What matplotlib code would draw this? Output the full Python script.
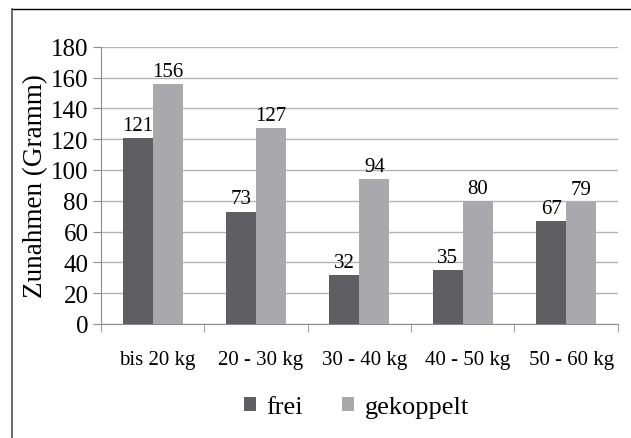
import matplotlib.pyplot as plt
import matplotlib.transforms as mtransforms
import numpy as np
from matplotlib.lines import Line2D

plt.rcParams['font.family'] = ['Liberation Serif', 'DejaVu Serif']

categories = ['bis 20 kg', '20 - 30 kg', '30 - 40 kg', '40 - 50 kg', '50 - 60 kg']
frei = [121, 73, 32, 35, 67]
gekoppelt = [156, 127, 94, 80, 79]
yticks = [0, 20, 40, 60, 80, 100, 120, 140, 160, 180]

dark = '#5f5f63'
light = '#a9a9ad'
grid_col = '#b4b4b4'

fig = plt.figure(figsize=(6.31, 4.39), dpi=100)
ax = fig.add_axes([0.160, 0.260, 0.819, 0.631])

x = np.arange(len(categories))
w = 0.29
b1 = ax.bar(x - w / 2, frei, w, color=dark, label='frei', zorder=3)
b2 = ax.bar(x + w / 2, gekoppelt, w, color=light, label='gekoppelt', zorder=3)

# value labels on top of each bar
for bars in (b1, b2):
    for r in bars:
        ax.text(r.get_x() + r.get_width() / 2, r.get_height() + 2, f'{r.get_height():.0f}',
                ha='center', va='bottom', fontsize=15)

ax.set_xlim(-0.5, len(categories) - 0.5)
ax.set_ylim(0, 180)
ax.set_yticks(yticks)
ax.yaxis.grid(True, color=grid_col, linewidth=1)
ax.set_axisbelow(True)

ax.set_xticks(x)
ax.set_xticklabels(categories, fontsize=15)
ax.set_xticks(np.arange(-0.5, len(categories)), minor=True)
ax.tick_params(axis='x', which='major', length=0, pad=19)
ax.tick_params(axis='x', which='minor', length=6, color='#8c8c8c', direction='out')
ax.tick_params(axis='y', length=6, color='#8c8c8c', labelsize=18, pad=3)

# category labels sit a little right of the group centre
shift = mtransforms.ScaledTranslation(5 / 100, 0, fig.dpi_scale_trans)
for lbl in ax.get_xticklabels():
    lbl.set_transform(lbl.get_transform() + shift)

for s in ('top', 'right'):
    ax.spines[s].set_visible(False)
for s in ('left', 'bottom'):
    ax.spines[s].set_color('#8c8c8c')

ax.set_ylabel('Zunahmen (Gramm)', fontsize=19.5, labelpad=2)

fig.legend(handles=[b1, b2], labels=['frei', 'gekoppelt'], loc='center',
           bbox_to_anchor=(0.565, 0.07), ncol=2, frameon=False, fontsize=19,
           handlelength=0.45, handleheight=0.45, columnspacing=1.5, handletextpad=0.4)

# outer chart border (top and left edges)
fig.add_artist(Line2D([0.019, 1.0], [0.977, 0.977], color='black', linewidth=1))
fig.add_artist(Line2D([0.019, 0.019], [0.0, 0.977], color='#505050', linewidth=1.2))

fig.savefig('out.png', dpi=100)
